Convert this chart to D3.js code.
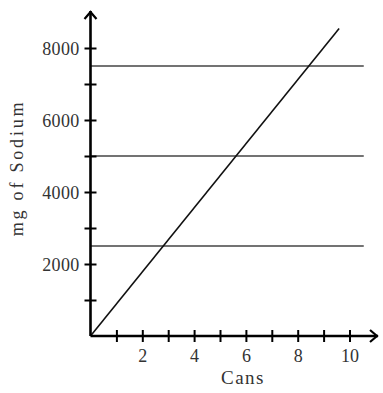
<!DOCTYPE html>
<html>
<head>
<meta charset="utf-8">
<script src="https://cdn.jsdelivr.net/npm/d3@7"></script>
<style>
  body { margin: 0; background: #fff; }
  svg text { font-family: "Liberation Serif", "Times New Roman", serif !important; fill: #333; }
</style>
</head>
<body>
<script>
// ticks and labels
var xTicks = [1, 2, 3, 4, 5, 6, 7, 8, 9, 10];
var yTicks = [1000, 2000, 3000, 4000, 5000, 6000, 7000, 8000];
var xLabelEvery = 2, yLabelEvery = 2000;

// sodium per cans line
var lineCans = [0, 9.6];
var lineSodium = [0, 8540];

// horizontal limit lines
var limits = [2500, 5000, 7500];
var limitEnd = 10.55;

var width = 383, height = 393;

var svg = d3.select("body").append("svg")
    .attr("width", width)
    .attr("height", height);

// scales
var x = d3.scaleLinear().domain([0, 10]).range([90.5, 349.5]);
var y = d3.scaleLinear().domain([0, 8000]).range([336, 48]);

// horizontal lines
svg.selectAll("line.limit")
    .data(limits)
    .enter().append("line")
    .attr("class", "limit")
    .attr("x1", x(0))
    .attr("x2", x(limitEnd))
    .attr("y1", function(d) { return y(d); })
    .attr("y2", function(d) { return y(d); })
    .attr("stroke", "#444")
    .attr("stroke-width", 1.6);

// diagonal line
var pts = lineCans.map(function(c, i) { return [c, lineSodium[i]]; });
svg.append("path")
    .datum(pts)
    .attr("fill", "none")
    .attr("stroke", "#111")
    .attr("stroke-width", 1.6)
    .attr("d", d3.line()
        .x(function(d) { return x(d[0]); })
        .y(function(d) { return y(d[1]); }));

// y axis
var yAxis = d3.axisLeft(y)
    .tickValues(yTicks)
    .tickSize(5)
    .tickFormat(function(d) { return d % yLabelEvery == 0 ? d : ""; });

var gy = svg.append("g")
    .attr("transform", "translate(" + x(0) + ",0)")
    .call(yAxis)
    .attr("font-family", null);
gy.select(".domain").remove();
gy.selectAll(".tick line")
    .attr("x1", -6).attr("x2", 6)
    .attr("stroke", "#000").attr("stroke-width", 2);
gy.selectAll(".tick text")
    .attr("x", -11)
    .attr("dy", "0.35em")
    .style("font-size", "18px")
    .style("letter-spacing", "0.3px");

// x axis
var xAxis = d3.axisBottom(x)
    .tickValues(xTicks)
    .tickSize(5)
    .tickFormat(function(d) { return d % xLabelEvery == 0 ? d : ""; });

var gx = svg.append("g")
    .attr("transform", "translate(0," + y(0) + ")")
    .call(xAxis)
    .attr("font-family", null);
gx.select(".domain").remove();
gx.selectAll(".tick line")
    .attr("y1", -6).attr("y2", 6)
    .attr("stroke", "#000").attr("stroke-width", 2);
gx.selectAll(".tick text")
    .attr("y", 13)
    .attr("dy", "0.71em")
    .style("font-size", "18px");

// axis lines with arrows
svg.append("path")
    .attr("d", "M" + x(0) + "," + y(0) + "V11")
    .attr("stroke", "#000").attr("stroke-width", 2.6).attr("fill", "none");
svg.append("path")
    .attr("d", "M" + (x(0) - 6) + ",19L" + x(0) + ",12L" + (x(0) + 6) + ",19")
    .attr("stroke", "#000").attr("stroke-width", 2.2).attr("fill", "none");
svg.append("path")
    .attr("d", "M" + x(0) + "," + y(0) + "H378")
    .attr("stroke", "#000").attr("stroke-width", 2.6).attr("fill", "none");
svg.append("path")
    .attr("d", "M370," + (y(0) - 6) + "L377," + y(0) + "L370," + (y(0) + 6))
    .attr("stroke", "#000").attr("stroke-width", 2.2).attr("fill", "none");

// axis titles
svg.append("text")
    .attr("x", 243)
    .attr("y", 384)
    .attr("text-anchor", "middle")
    .style("font-size", "19px")
    .style("letter-spacing", "1.5px")
    .text("Cans");

svg.append("text")
    .attr("transform", "translate(23,168) rotate(-90)")
    .attr("text-anchor", "middle")
    .style("font-size", "18px")
    .style("letter-spacing", "2.8px")
    .text("mg of Sodium");
</script>
</body>
</html>
